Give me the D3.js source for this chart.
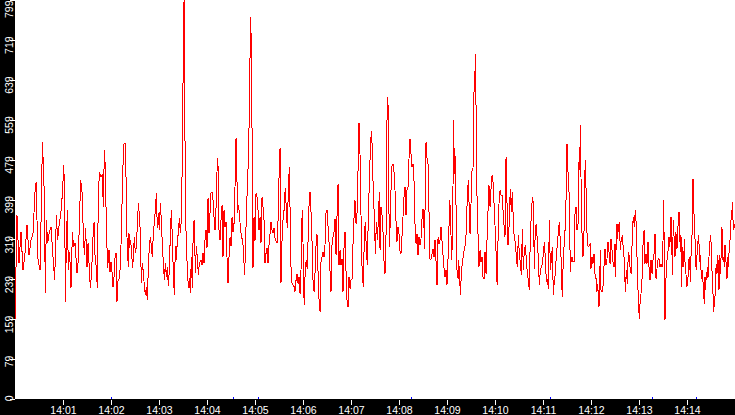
<!DOCTYPE html>
<html>
<head>
<meta charset="utf-8">
<script src="https://cdn.jsdelivr.net/npm/d3@7"></script>
<style>
  html, body { margin: 0; padding: 0; background: #fff; overflow: hidden; }
  svg { display: block; }
  .axis text { font-family: "Liberation Sans", Arial, sans-serif; font-size: 10.5px; fill: #fff; }
  .axis line { stroke: #fff; }
  .axis path { display: none; }
</style>
</head>
<body>
<div id="chart"></div>
<script>
// samples: [seconds after 14:00:00, value]
const samples = [
  [0,158],[2.5,368],[5,272],[7.5,334],[10,258],[12.5,292],[15,348],[17.5,288],[20,318],[22.5,332],
  [25,414],[26.3,434],[27.5,358],[28.8,278],[31.3,258],[32.9,384],[34.2,514],[35.4,472],[36.7,404],[37.9,212],
  [39.2,358],[40.8,312],[42.9,334],[45,344],[47.1,294],[49.6,238],[51.7,368],[53.3,318],[55.4,352],[57.1,368],
  [59.6,418],[60.8,468],[62.1,422],[62.9,194],[64.2,312],[65.4,378],[66.7,258],[68.3,294],[70,222],[71.7,334],
  [73.3,304],[75,312],[76.3,282],[77.5,252],[79.2,278],[80.4,352],[82.1,438],[83.8,414],[85.4,332],[86.7,288],
  [88.3,342],[90,264],[91.3,312],[92.5,272],[94.2,222],[95.8,254],[97.5,324],[98.8,354],[100,288],[101.7,262],
  [102.9,222],[104.2,418],[105.8,454],[107.5,444],[109.2,450],[110.4,384],[111.7,498],[112.9,464],[114.2,344],[115.8,262],
  [117.5,298],[118.8,254],
  [120,274],[121.3,254],[122.5,224],[123.8,244],[125,282],[126.3,292],[127.5,194],[128.8,238],[130,240],[131.3,258],
  [132.5,308],[133.8,392],[135,468],[136.3,512],[137.5,512],[138.3,468],[139.2,424],[140,324],[140.8,288],[141.7,264],
  [142.5,332],[143.3,302],[144.6,318],[145.8,292],[147.1,262],[148.3,298],[149.2,324],[150.4,292],[151.7,306],[152.9,348],
  [154.2,392],[155.4,368],[156.7,332],[157.9,232],[159.2,272],[160.4,254],[161.7,226],[162.9,208],[164.2,224],[165.4,198],
  [166.7,264],[167.9,306],[169.2,324],[170.4,306],[171.7,284],[172.9,332],[174.2,354],[175.4,378],[176.7,412],[177.9,342],
  [179.2,372],[180.4,338],[181.7,392],[182.9,358],[184.2,308],[185.4,272],[186.7,238],[187.9,272],[189.2,244],[190.4,264],
  [191.7,226],[192.9,258],[194.2,332],[195.4,378],[196.7,322],[197.9,252],[199.2,208],[200.4,306],[201.7,278],[202.9,318],
  [204.2,332],[205.4,362],[206.7,332],[207.9,358],[209.2,488],[210.4,698],[211.3,798],[212.1,642],[212.9,398],[214.2,306],
  [215.4,264],[216.7,222],[217.9,242],[219.2,212],[220.4,284],[221.7,222],[222.9,354],[224.2,358],[225.4,252],[226.7,306],
  [227.9,284],[229.2,248],[230.4,272],
  [232.5,278],[233.8,268],[235,292],[236.3,272],[237.5,318],[238.8,338],[240,302],[241.3,402],[242.5,332],[243.8,374],
  [245,412],[246.3,414],[247.5,398],[248.8,364],[250,338],[251.3,384],[252.5,454],[252.9,482],[254.2,458],[255,338],
  [256.3,318],[257.5,358],[258.8,388],[260,284],[261.3,378],[262.5,344],[263.8,354],[265,284],[266.3,232],[267.5,284],
  [268.8,324],[270,306],[271.3,364],[272.5,334],[273.8,352],[275,424],[276.3,522],[277.1,468],[278.3,372],[279.6,388],
  [280.8,362],[282.1,338],[283.3,322],[284.6,322],[285.8,284],[287.1,248],[288.3,318],[289.6,388],[290.8,442],[292.1,492],
  [293.3,634],[294.6,764],[295.8,672],[296.7,418],[297.5,262],[298.8,364],[300,316],[301.3,412],[302.5,404],[303.8,378],
  [305,338],[306.3,364],[307.5,312],[308.8,404],[310,384],[311.3,358],[312.5,272],[313.8,292],[315,302],[316.3,272],
  [317.5,308],[318.8,332],[320,354],[321.3,338],[322.5,332],[323.8,342],[325,322],[326.3,316],[327.5,312],[328.8,358],
  [330,442],[331.3,502],[332.5,232],[333.8,318],[335,358],[336.3,378],[337.1,408],[337.9,422],[339.2,378],[340.4,342],
  [341.7,422],[342.9,464],
  [343.8,381],[345,265],[346.3,231],[347.5,228],[348.8,225],[350,215],[351.3,238],[352.5,251],[353.8,231],[355,245],
  [356.3,211],[357.5,258],[358.3,345],[359.2,378],[360,315],[360.8,218],[361.7,188],[362.9,271],[364.2,275],[365.4,261],
  [366.7,341],[367.9,408],[368.8,415],[370,375],[371.3,315],[372.5,238],[373.8,215],[375,251],[376.3,308],[377.5,330],
  [378.8,255],[380,201],[381.3,175],[382.5,275],[383.8,285],[385,295],[386.3,285],[387.5,308],[388.8,375],[390,378],
  [391.3,345],[392.5,315],[393.8,255],[395,215],[396.3,311],[397.5,325],[398.8,335],[400,361],[401.3,288],[402.5,365],
  [403.8,431],[405,268],[406.3,298],[407.5,268],[408.8,281],[410,215],[411.3,305],[412.5,335],[413.8,255],[415,198],
  [416.3,185],[417.5,245],[418.8,221],[420,238],[421.3,241],[422.5,310],[423.8,365],[425,398],[426.3,351],[427.5,371],
  [428.3,411],[429.2,498],[430,553],[431.3,488],[432.5,368],[433.3,288],[434.2,248],[435.4,225],[436.7,328],[437.9,355],
  [439.2,298],[440.4,268],[441.7,371],[442.9,431],[444.2,501],[445.4,536],[446.7,501],[447.9,408],[449.2,368],[450.4,291],
  [451.7,355],[452.9,318],[454.2,358],[455.4,415],[456.3,298],
  [457.5,385],[458.8,368],[460,335],[461.3,275],[462.5,251],[463.8,331],[464.6,508],[465.4,605],[466.3,588],[467.1,441],
  [467.9,305],[468.8,345],[470,418],[471.3,468],[472.5,471],[473.8,455],[475,418],[476.3,355],[477.5,315],[478.8,345],
  [480,331],[481.3,295],[482.5,291],[483.8,328],[485,365],[486.3,405],[487.5,425],[488.8,368],[490,418],[491.3,425],
  [492.5,481],[493.8,521],[495,491],[496.3,465],[497.5,471],[498.8,435],[500,351],[501.3,311],[502.5,331],[503.8,288],
  [505,325],[506.3,308],[507.5,321],[508.8,361],[510,381],[511.3,341],[512.1,301],[512.9,448],[513.8,515],[514.6,491],
  [515.4,475],[516.3,471],[517.5,375],[518.8,278],[520,281],[521.3,291],[522.5,301],[523.8,285],[525,318],[526.3,275],
  [527.1,231],[527.9,228],[528.8,325],[530,311],[531.3,318],[532.5,345],[533.8,315],[535,288],[536.3,261],[537.5,245],
  [538.8,258],[540,228],[541.3,281],[542.5,345],[543.3,398],[544.2,381],[545,328],[545.8,278],[546.7,318],[547.5,425],
  [548.3,559],[549.2,451],[550,488],[550.8,435],[551.7,348],[552.5,258],[553.8,241],[554.6,278],[555.8,245],[556.7,208],
  [557.9,248],[559.2,275],[560.4,285],[561.7,301],[562.9,308],[564.2,338],[565.4,408],[566.7,438],[567.9,375],[568.8,331],
  [570,391],[571.3,458],[572.5,461],[573.8,618],[574.6,618],[575.4,691],[576.3,585],[577.1,431],[577.9,385],[578.8,328],
  [580,265],[581.3,298],[582.5,275],[583.8,285],[585,245],[586.3,241],[587.5,295],[588.8,251],[590,318],[591.3,378],
  [592.5,428],[593.8,385],[595,421],[596.3,448],[597.5,435],[598.8,391],[600,348],[601.3,295],[602.1,241],[602.9,228],
  [603.8,321],[605,391],[606.3,418],[607.5,408],[608.8,408],[610,378],[611.3,348],[612.5,325],[613.8,485],[614.6,438],
  [615.4,351],[616.3,308],[617.1,315],[617.9,371],[619.2,421],[620.4,375],[621.7,415],[622.9,355],[624.2,318],[625.4,315],
  [626.7,285],[627.9,265],[629.2,328],[630.4,291],[631.7,271],[632.9,248],[634.2,341],[635.4,258],[636.7,301],[637.9,305],
  [639.2,281],[640.4,251],[641.7,238],[642.9,218],[644.2,335],[645.4,365],[646.7,405],[647.9,391],[649.2,261],[650.4,345],
  [651.7,351],[652.9,315],[654.2,281],[655.4,228],[656.7,258],[657.9,265],[659.2,271],[660.4,291],[661.7,315],[662.9,281],
  [664.2,235],[665.4,241],[666.7,221],[667.9,358],[669.2,258],[670.4,278],[671.7,305],[672.9,208],[674.2,238],[675.4,251],
  [676.7,288],[677.9,308],[679.2,335],[680.4,355],
  [682.5,285],[683.3,231],[684.2,205],[685.4,285],[686.7,315],[687.9,348],[689.2,425],[690,511],[690.8,485],[691.7,425],
  [692.5,415],[693.3,351],[694.2,255],[695,275],[696.3,285],[697.5,275],[698.8,275],[700,371],[701.3,385],[702.5,338],
  [703.8,351],[705,475],[705.8,458],[706.7,548],[707.5,445],[708.3,348],[709.2,318],[710,285],[711.3,338],[712.1,438],
  [712.9,478],[713.8,421],[714.6,358],[715.4,308],[716.7,305],[717.9,308],[719.2,311],[720,261],[721.3,285],[722.5,271],
  [723.8,291],[725,251],[726.3,241],[727.5,215],[728.3,231],[729.2,208],[730,185],[730.8,231],[731.7,299],[732.5,218],
  [733.8,215],[735,225],[736.3,268],[737.5,301],[738.8,268],[740,281],[741.3,315],[742.5,295],[743.8,271],[745,321],
  [746.3,298],[747.5,275],[748.8,265],[750,311],[750.8,245],[751.7,348],[752.5,351],[753.3,321],[754.2,348],[755.4,351],
  [756.7,299],[757.9,321],[759.2,325],[760.4,301],[761.7,275],[762.9,215],[764.2,258],[765.4,231],[766.7,295],[767.9,285],
  [769.2,255],[770.4,251],[771.7,335],[772.9,365],[774.2,345],[775.4,378],[776.7,345],[777.9,258],[779.2,198],[780.4,161],
  [781.3,191],[782.5,211],[783.8,241],[785,308],[786.3,338],[787.5,271],[788.8,291],[790,271],[791.3,315],[792.5,265],
  [793.8,238],
  [795,278],[796.3,251],[797.5,278],[798.8,291],[800,331],[801.3,241],[802.5,261],[803.8,278],[805,281],[806.3,265],
  [807.5,271],[808.8,265],[810,315],[810.8,398],[811.7,278],[812.5,158],[813.3,211],[814.2,271],[815.4,281],[816.7,305],
  [817.5,325],[818.3,305],[819.2,325],[820,365],[820.8,335],[821.7,248],[822.5,325],[823.3,358],[824.2,298],[825,285],
  [825.8,335],[826.7,325],[827.5,301],[828.3,345],[829.2,348],[830,375],[830.8,335],[831.7,295],[832.5,328],[833.3,225],
  [834.2,305],[835,265],[835.8,271],[836.7,321],[837.5,275],[838.3,261],[839.2,238],[840,225],[840.8,241],[841.7,248],
  [842.5,281],[843.3,285],[844.2,235],[845,285],[845.8,311],[846.7,345],[847.5,441],[848.3,398],[849.2,345],[850,321],
  [850.8,271],[851.7,258],[852.5,288],[853.3,305],[854.2,328],[855,311],[855.8,275],[856.7,288],[857.5,258],[858.3,241],
  [859.2,258],[860,235],[860.8,211],[861.7,191],[862.5,245],[863.3,218],[864.2,255],[865,241],[865.8,265],[866.7,245],
  [867.5,285],[868.3,305],[869.2,328],[870,315],[870.8,268],[871.7,245],[872.5,211],[873.3,175],[874.2,191],[875,205],
  [875.8,251],[876.7,271],[877.5,251],[878.3,288],[879.2,268],[880,218],[880.8,288],[881.7,251],[882.5,281],[883.3,345],
  [884.2,335],[885,278],[885.8,285],[886.7,265],[887.5,308],[888.3,291],[889.2,258],[890,241],[890.8,285],[891.7,265],
  [892.5,291],[893.3,305],[894.2,331],[895,358],[895.8,361],[896.7,395],[897.5,358],[898.3,338],[899.2,348],[900,345]
];

const yTicks = [0, 79.9, 159.8, 239.7, 319.6, 399.5, 479.4, 559.3, 639.2, 719.1, 799];
const xTicks = [60, 120, 180, 240, 300, 360, 420, 480, 540, 600, 660, 720, 780, 840];
const xTickLabels = ["14:01", "14:02", "14:03", "14:04", "14:05", "14:06", "14:07",
                     "14:08", "14:09", "14:10", "14:11", "14:12", "14:13", "14:14"];
// small blue event marks along the baseline
const markerTimes = [120, 272.5, 303.75, 495, 668.75, 796.25, 851.25];

const W = 735, H = 415;
const left = 15, bottom = 399;

const svg = d3.select("#chart").append("svg")
    .attr("width", W)
    .attr("height", H);

svg.append("rect").attr("width", W).attr("height", H).attr("fill", "#fff");

const x = d3.scaleLinear().domain([0, 900]).range([left, W]);
const y = d3.scaleLinear().domain([0, 799]).range([bottom, 0]);

svg.append("clipPath").attr("id", "plot-clip")
  .append("rect")
    .attr("x", left).attr("y", 0)
    .attr("width", W - left).attr("height", bottom);

const line = d3.line()
    .x(d => x(d[0]))
    .y(d => y(d[1]));

svg.append("path")
    .datum(samples)
    .attr("clip-path", "url(#plot-clip)")
    .attr("fill", "none")
    .attr("stroke", "#ff0000")
    .attr("stroke-width", 1)
    .attr("shape-rendering", "crispEdges")
    .attr("d", line);

// event marks
svg.selectAll(".mark")
    .data(markerTimes)
    .enter()
    .append("rect")
    .attr("class", "mark")
    .attr("x", d => Math.round(x(d)))
    .attr("y", bottom - 2)
    .attr("width", 1)
    .attr("height", 2)
    .attr("fill", "#0000ff");

// black axis strips
svg.append("rect").attr("x", 0).attr("y", 0).attr("width", left).attr("height", H).attr("fill", "#000");
svg.append("rect").attr("x", 0).attr("y", bottom).attr("width", W).attr("height", H - bottom).attr("fill", "#000");

// Y axis
const yAxis = svg.append("g")
    .attr("class", "axis")
    .attr("transform", `translate(${left},0)`)
    .call(d3.axisLeft(y)
        .tickValues(yTicks)
        .tickSize(5)
        .tickFormat(d => Math.floor(d)));

yAxis.selectAll("line").attr("shape-rendering", "crispEdges");
yAxis.selectAll("text")
    .attr("x", null)
    .attr("dy", null)
    .attr("text-anchor", "end")
    .attr("transform", d => `translate(-2.5,${Math.max(-4, -y(d))}) rotate(-90)`);

// X axis
const xAxis = svg.append("g")
    .attr("class", "axis")
    .attr("transform", `translate(0,${bottom + 1})`)
    .call(d3.axisBottom(x)
        .tickValues(xTicks)
        .tickSize(5)
        .tickFormat((d, i) => xTickLabels[i]));

xAxis.selectAll("line").attr("shape-rendering", "crispEdges");
xAxis.selectAll("text")
    .attr("y", 14)
    .attr("dy", null);
</script>
</body>
</html>
